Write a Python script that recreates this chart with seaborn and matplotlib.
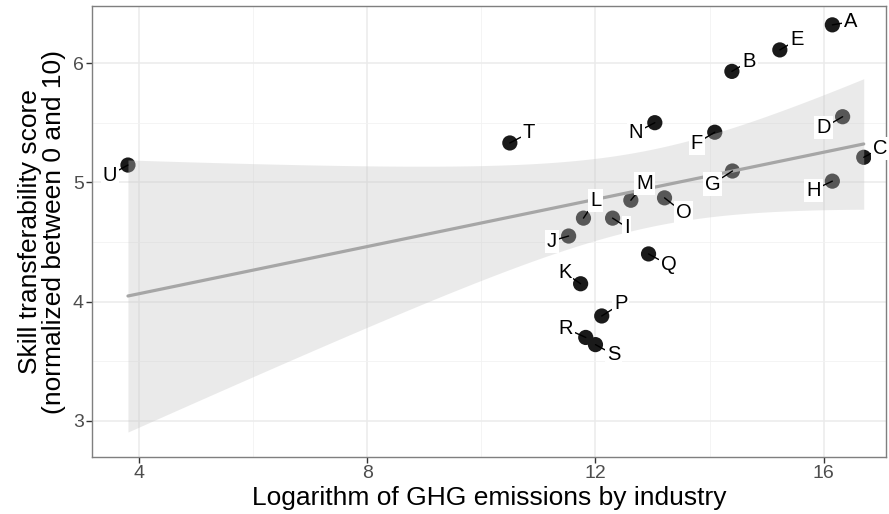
import numpy as np
import pandas as pd
import matplotlib
matplotlib.use("Agg")
import matplotlib.pyplot as plt
import seaborn as sns

# Industry codes, log GHG emissions and skill transferability scores
industries = ["A", "B", "C", "D", "E", "F", "G", "H", "I", "J", "K",
              "L", "M", "N", "O", "P", "Q", "R", "S", "T", "U"]
log_ghg = [16.15, 14.39, 16.70, 16.33, 15.23, 14.09, 14.40, 16.15, 12.30, 11.53, 11.74,
           11.79, 12.62, 13.04, 13.21, 12.11, 12.93, 11.83, 12.00, 10.50, 3.81]
skill_score = [6.32, 5.93, 5.21, 5.55, 6.11, 5.42, 5.095, 5.01, 4.70, 4.55, 4.15,
               4.70, 4.85, 5.50, 4.87, 3.88, 4.40, 3.70, 3.64, 5.33, 5.145]

# Label offsets from each point (pixels, right / up)
label_offsets = [(18, 3), (17, 10), (17, 9), (-19, -11), (17, 10), (-18, -11), (-20, -13),
                 (-19, -9), (14, -9), (-17, -5), (-16, 11), (12, 18), (14, 17), (-19, -10),
                 (19, -15), (19, 12), (20, -11), (-20, 9), (18, -10), (19, 10), (-18, -10)]

df = pd.DataFrame({"industry": industries, "log_ghg": log_ghg, "skill": skill_score})

sns.set_theme(style="whitegrid")
plt.rcParams["font.family"] = ["Liberation Sans", "DejaVu Sans"]

fig = plt.figure(figsize=(8.89, 5.14), dpi=100)
ax = fig.add_axes([92 / 889, 57 / 514, (886 - 92) / 889, (457 - 6) / 514])

sns.scatterplot(data=df, x="log_ghg", y="skill", ax=ax, s=120, color="#1a1a1a",
                edgecolor="none", zorder=2)

# Linear fit with 95% confidence band
x = df["log_ghg"].to_numpy()
y = df["skill"].to_numpy()
n = len(x)
slope, intercept = np.polyfit(x, y, 1)
xs = np.linspace(x.min(), x.max(), 200)
fit = intercept + slope * xs
resid = y - (intercept + slope * x)
s_err = np.sqrt(np.sum(resid ** 2) / (n - 2))
se_fit = s_err * np.sqrt(1 / n + (xs - x.mean()) ** 2 / np.sum((x - x.mean()) ** 2))
t_crit = 2.093
ax.fill_between(xs, fit - t_crit * se_fit, fit + t_crit * se_fit,
                color="#c6c6c6", alpha=0.36, linewidth=0, zorder=3)
sns.lineplot(x=xs, y=fit, ax=ax, color="#a6a6a6", linewidth=2.3, zorder=4)

px = 0.72  # points per pixel at 100 dpi
for name, xv, yv, (dx, dy) in zip(industries, log_ghg, skill_score, label_offsets):
    ax.annotate(name, xy=(xv, yv), xytext=(dx * px, dy * px), textcoords="offset points",
                ha="center", va="center", fontsize=14.5, color="black", zorder=5,
                bbox=dict(boxstyle="square,pad=0.1", fc="white", ec="none"),
                arrowprops=dict(arrowstyle="-", color="black", lw=1.0,
                                shrinkA=0, shrinkB=0))

ax.set_xlim(3.18, 17.09)
ax.set_ylim(2.698, 6.478)
ax.set_xticks([4, 8, 12, 16])
ax.set_yticks([3, 4, 5, 6])
ax.set_xticks([6, 10, 14], minor=True)
ax.set_yticks([3.5, 4.5, 5.5], minor=True)
ax.grid(which="major", color="#ebebeb", linewidth=1.1)
ax.grid(which="minor", color="#f2f2f2", linewidth=0.6)
ax.set_axisbelow(True)
for sp in ax.spines.values():
    sp.set_color("#7f7f7f")
    sp.set_linewidth(1.0)
    sp.set_visible(True)
ax.tick_params(axis="both", which="major", bottom=True, left=True, length=4, width=1.0,
               color="#333333", labelsize=14, labelcolor="#4d4d4d", pad=2)
ax.tick_params(axis="both", which="minor", length=0)

ax.set_xlabel("Logarithm of GHG emissions by industry", fontsize=19, color="black", labelpad=3)
ax.set_ylabel("Skill transferability score\n(normalized between 0 and 10)", fontsize=19,
              color="black", labelpad=5, linespacing=1.0)

fig.savefig("out.png", dpi=100, facecolor="white")
